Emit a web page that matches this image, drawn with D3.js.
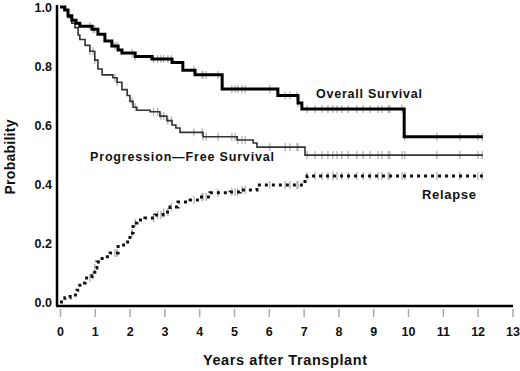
<!DOCTYPE html>
<html>
<head>
<meta charset="utf-8">
<script src="https://cdn.jsdelivr.net/npm/d3@7"></script>
<style>
  body { margin: 0; background: #fff; }
  text { font-family: "Liberation Sans", Arial, sans-serif; font-weight: bold; fill: #111; }
</style>
</head>
<body>
<div id="chart"></div>
<script>
// step curves (time in years, probability)
let osTimes = [0, 0.14, 0.23, 0.34, 0.46, 0.57, 0.92, 1.09, 1.29, 1.49, 1.67, 1.78, 2.16, 2.64, 3.22, 3.53, 3.88, 4.66, 6.26, 6.84, 6.95, 9.89]
let osValues = [1.0, 0.99, 0.97, 0.955, 0.945, 0.935, 0.925, 0.908, 0.885, 0.868, 0.854, 0.844, 0.832, 0.824, 0.812, 0.786, 0.77, 0.722, 0.70, 0.675, 0.654, 0.56]

let pfsTimes = [0, 0.11, 0.23, 0.34, 0.43, 0.52, 0.57, 0.72, 0.86, 1.0, 1.09, 1.21, 1.52, 1.64, 1.78, 1.93, 2.01, 2.1, 2.21, 2.59, 2.87, 3.07, 3.22, 3.33, 3.45, 4.11, 5.09, 5.55, 5.66, 7.04]
let pfsValues = [1.0, 0.99, 0.965, 0.945, 0.93, 0.905, 0.89, 0.87, 0.85, 0.82, 0.79, 0.77, 0.76, 0.745, 0.72, 0.70, 0.68, 0.66, 0.65, 0.645, 0.63, 0.615, 0.60, 0.59, 0.575, 0.56, 0.549, 0.539, 0.525, 0.498]

let relTimes = [0, 0.14, 0.29, 0.49, 0.57, 0.72, 0.92, 1.0, 1.06, 1.21, 1.44, 1.67, 1.87, 2.01, 2.1, 2.21, 2.44, 2.73, 2.96, 3.16, 3.39, 3.74, 4.02, 4.31, 4.89, 5.17, 5.66, 7.04, 7.1]
let relValues = [0, 0.014, 0.024, 0.04, 0.064, 0.081, 0.09, 0.115, 0.136, 0.153, 0.166, 0.193, 0.203, 0.234, 0.268, 0.278, 0.285, 0.295, 0.305, 0.322, 0.339, 0.346, 0.356, 0.37, 0.373, 0.38, 0.397, 0.414, 0.427]

let endTime = 12.15

// censoring marks (shared follow-up times)
let censorTimes = [0.86, 0.95, 1.0, 1.58, 1.64, 2.07, 2.16, 2.69, 2.81, 2.9, 2.98, 3.1, 3.2,
  3.85, 4.08, 4.11, 4.2, 4.54, 4.94, 5.03, 5.11, 5.23, 5.32, 6.03, 6.47, 6.61, 6.81, 6.84,
  7.1, 7.33, 7.53, 7.7, 7.84, 7.96, 8.1, 8.28, 8.53, 8.71, 8.91, 9.14, 9.25, 9.43, 9.48, 9.83, 9.91,
  10.83, 11.49, 12.01, 12.13]

let xTicks = [0, 1, 2, 3, 4, 5, 6, 7, 8, 9, 10, 11, 12, 13]
let yTicks = [0, 0.2, 0.4, 0.6, 0.8, 1.0]

let width = 520, height = 371

let svg = d3.select("#chart").append("svg")
  .attr("width", width)
  .attr("height", height)

let x = d3.scaleLinear().domain([0, 13]).range([60, 512.4])
let y = d3.scaleLinear().domain([0, 1]).range([302, 7])

function toPoints(times, values) {
  let pts = times.map(function(t, i) { return [t, values[i]] })
  pts.push([endTime, values[values.length - 1]])
  return pts
}

function valueAt(times, values, t) {
  let i = d3.bisectRight(times, t) - 1
  return values[Math.max(0, i)]
}

let line = d3.line()
  .curve(d3.curveStepAfter)
  .x(function(d) { return x(d[0]) })
  .y(function(d) { return y(d[1]) })

// x axis ticks (gray, below the axis line)
let xAxis = svg.append("g")
  .attr("transform", "translate(0,309)")
  .call(d3.axisBottom(x).tickValues(xTicks).tickSize(8).tickPadding(10).tickFormat(d3.format("d")))
xAxis.select(".domain").remove()
xAxis.selectAll(".tick line").attr("stroke", "#aaa").attr("stroke-width", 1.5)
xAxis.selectAll(".tick text").style("font-size", "12.5px").attr("fill", "#111")

let yAxis = svg.append("g")
  .attr("transform", "translate(53,0)")
  .call(d3.axisLeft(y).tickValues(yTicks).tickSize(0).tickPadding(1).tickFormat(d3.format(".1f")))
yAxis.select(".domain").remove()
yAxis.selectAll(".tick text").style("font-size", "12.5px").attr("fill", "#111")

// axis lines
svg.append("line").attr("x1", 57).attr("x2", 57).attr("y1", 5).attr("y2", 306)
  .attr("stroke", "#000").attr("stroke-width", 2.5)
svg.append("line").attr("x1", 56).attr("x2", 513).attr("y1", 306).attr("y2", 306)
  .attr("stroke", "#000").attr("stroke-width", 2.5)

let curves = [
  {id: "pfs", times: pfsTimes, values: pfsValues, stroke: "#333", width: 1.6, dash: null},
  {id: "rel", times: relTimes, values: relValues, stroke: "#111", width: 3, dash: "3,4"},
  {id: "os", times: osTimes, values: osValues, stroke: "#000", width: 3, dash: null}
]

curves.forEach(function(c) {
  svg.append("g").attr("class", "censor " + c.id)
    .selectAll("line")
    .data(censorTimes)
    .enter().append("line")
    .attr("x1", function(t) { return x(t) })
    .attr("x2", function(t) { return x(t) })
    .attr("y1", function(t) { return y(valueAt(c.times, c.values, t)) - 4 })
    .attr("y2", function(t) { return y(valueAt(c.times, c.values, t)) + 4 })
    .attr("stroke", "#999")
    .attr("stroke-width", 1)

  svg.append("path")
    .datum(toPoints(c.times, c.values))
    .attr("d", line)
    .attr("fill", "none")
    .attr("stroke", c.stroke)
    .attr("stroke-width", c.width)
    .attr("stroke-dasharray", c.dash)
})

// curve labels
svg.append("text").attr("x", 316).attr("y", 98).style("font-size", "12.5px")
  .attr("textLength", 106).attr("lengthAdjust", "spacing").text("Overall Survival")
svg.append("text").attr("x", 90).attr("y", 161).style("font-size", "12.5px")
  .attr("textLength", 184).attr("lengthAdjust", "spacing").text("Progression\u2014Free Survival")
svg.append("text").attr("x", 422).attr("y", 199).style("font-size", "13px")
  .attr("textLength", 54).attr("lengthAdjust", "spacing").text("Relapse")

// axis titles
svg.append("text")
  .attr("x", 285).attr("y", 365)
  .attr("text-anchor", "middle")
  .style("font-size", "14.5px")
  .attr("textLength", 164).attr("lengthAdjust", "spacing")
  .text("Years after Transplant")

svg.append("text")
  .attr("transform", "translate(15,157) rotate(-90)")
  .attr("text-anchor", "middle")
  .style("font-size", "14px")
  .attr("textLength", 75).attr("lengthAdjust", "spacing")
  .text("Probability")
</script>
</body>
</html>
